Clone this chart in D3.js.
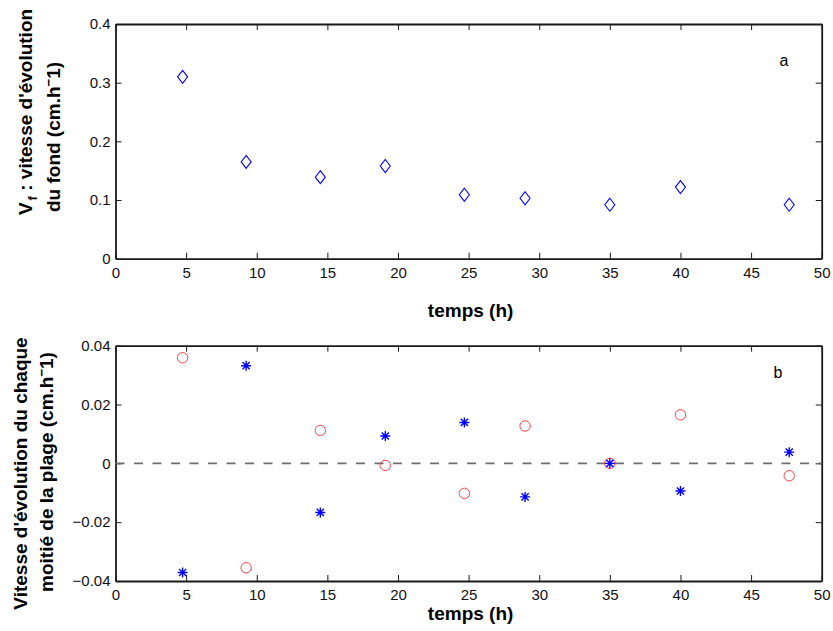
<!DOCTYPE html>
<html>
<head>
<meta charset="utf-8">
<script src="https://cdn.jsdelivr.net/npm/d3@7"></script>
<style>
  html, body { margin: 0; padding: 0; background: #fff; }
  svg { display: block; font-family: "Liberation Sans", Arial, Helvetica, sans-serif; }
</style>
</head>
<body>
<svg id="chart" width="833" height="631"></svg>
<script>
// ---- data ----
const times        = [4.75, 9.25, 14.5, 19.1, 24.7, 29, 35, 40, 47.7];
const vFond        = [0.31, 0.165, 0.139, 0.158, 0.109, 0.103, 0.092, 0.122, 0.092];
const moitieCircle = [0.0359, -0.0355, 0.0112, -0.0007, -0.0102, 0.0127, 0.0, 0.0165, -0.0042];
const moitieStar   = [-0.0371, 0.0332, -0.0167, 0.0093, 0.0139, -0.0114, 0.0, -0.0094, 0.0038];
const xTicks  = [0, 5, 10, 15, 20, 25, 30, 35, 40, 45, 50];
const yTicksA = [0, 0.1, 0.2, 0.3, 0.4];
const yTicksB = [-0.04, -0.02, 0, 0.02, 0.04];

const svg = d3.select("#chart");
const left = 115.5, right = 821.7;
const x = d3.scaleLinear().domain([0, 50]).range([left, right]);
const yA = d3.scaleLinear().domain([0, 0.4]).range([258.7, 24]);
const yB = d3.scaleLinear().domain([-0.04, 0.04]).range([581, 345.7]);

const fmtA = d => d === 0 ? "0" : d3.format(".1f")(d);
const fmtB = d => d === 0 ? "0" : d3.format(".2f")(d);

function drawAxes(y, yTicks, fmt) {
  const [y0, y1] = y.range();
  const g = svg.append("g");
  g.append("g").attr("transform", `translate(0,${y0})`)
    .call(d3.axisBottom(x).tickValues(xTicks).tickFormat(d => d)
      .tickSizeInner(-6).tickSizeOuter(0).tickPadding(8.5));
  g.append("g").attr("transform", `translate(0,${y1})`)
    .call(d3.axisTop(x).tickValues(xTicks).tickFormat("")
      .tickSizeInner(-6).tickSizeOuter(0));
  g.append("g").attr("transform", `translate(${left},0)`)
    .call(d3.axisLeft(y).tickValues(yTicks).tickFormat(fmt)
      .tickSizeInner(-6).tickSizeOuter(0).tickPadding(5));
  g.append("g").attr("transform", `translate(${right},0)`)
    .call(d3.axisRight(y).tickValues(yTicks).tickFormat("")
      .tickSizeInner(-6).tickSizeOuter(0));
  g.selectAll(".domain").attr("stroke", "#1a1a1a").attr("stroke-width", 1.8);
  g.selectAll(".tick line").attr("stroke", "#1a1a1a").attr("stroke-width", 1);
  g.selectAll(".tick text").attr("font-size", 15).attr("fill", "#111")
    .attr("font-family", "'Liberation Sans', Arial, sans-serif");
  return g;
}

// ---- panel a ----
drawAxes(yA, yTicksA, fmtA);
const diamond = "M0,-6.5L5,0L0,6.5L-5,0Z";
svg.append("g").selectAll("path").data(times.map((t, i) => [t, vFond[i]]))
  .join("path")
  .attr("d", diamond)
  .attr("transform", d => `translate(${x(d[0])},${yA(d[1])})`)
  .attr("fill", "none").attr("stroke", "#0000ff").attr("stroke-width", 1.1);

svg.append("text").attr("x", 784).attr("y", 66).attr("text-anchor", "middle")
  .attr("font-size", 16).text("a");

svg.append("text").attr("x", (left + right) / 2 + 2).attr("y", 317)
  .attr("text-anchor", "middle").attr("font-size", 19).attr("font-weight", "bold")
  .text("temps (h)");

// y label a
const la = svg.append("g").attr("font-weight", "bold").attr("font-size", 19);
const la1 = la.append("text").attr("transform", "translate(32,112) rotate(-90)")
  .attr("text-anchor", "middle");
la1.append("tspan").text("V");
la1.append("tspan").attr("font-size", 13).attr("dy", 5).attr("dx", 2).text("f");
la1.append("tspan").attr("dy", -5).text("  : vitesse d'évolution");
const la2 = la.append("text").attr("transform", "translate(60,137) rotate(-90)")
  .attr("text-anchor", "middle");
la2.append("tspan").text("du fond (cm.h");
la2.append("tspan").attr("font-size", 13).attr("dy", -7).text("\u2212");
la2.append("tspan").attr("dy", 7).text("1)");

// ---- panel b ----
drawAxes(yB, yTicksB, fmtB);
svg.append("line")
  .attr("x1", x(0)).attr("x2", x(50)).attr("y1", yB(0)).attr("y2", yB(0))
  .attr("stroke", "#6e6e6e").attr("stroke-width", 1.8).attr("stroke-dasharray", "9,9.5");

svg.append("g").selectAll("circle").data(times.map((t, i) => [t, moitieCircle[i]]))
  .join("circle")
  .attr("cx", d => x(d[0])).attr("cy", d => yB(d[1])).attr("r", 5.2)
  .attr("fill", "none").attr("stroke", "#ff4040").attr("stroke-width", 1);

const star = "M0,-5L0,5M-5,0L5,0M-3.6,-3.6L3.6,3.6M-3.6,3.6L3.6,-3.6";
svg.append("g").selectAll("path").data(times.map((t, i) => [t, moitieStar[i]]))
  .join("path")
  .attr("d", star)
  .attr("transform", d => `translate(${x(d[0])},${yB(d[1])})`)
  .attr("fill", "none").attr("stroke", "#0000ff").attr("stroke-width", 1.4);

svg.append("text").attr("x", 778).attr("y", 378).attr("text-anchor", "middle")
  .attr("font-size", 16).text("b");

svg.append("text").attr("x", (left + right) / 2 + 2).attr("y", 620)
  .attr("text-anchor", "middle").attr("font-size", 19).attr("font-weight", "bold")
  .text("temps (h)");

const lb = svg.append("g").attr("font-weight", "bold").attr("font-size", 19);
lb.append("text").attr("transform", "translate(27,473.5) rotate(-90)")
  .attr("text-anchor", "middle").text("Vitesse d'évolution du chaque");
const lb2 = lb.append("text").attr("transform", "translate(53,472) rotate(-90)")
  .attr("text-anchor", "middle");
lb2.append("tspan").text("moitié de la plage (cm.h");
lb2.append("tspan").attr("font-size", 13).attr("dy", -7).text("\u2212");
lb2.append("tspan").attr("dy", 7).text("1)");
</script>
</body>
</html>
